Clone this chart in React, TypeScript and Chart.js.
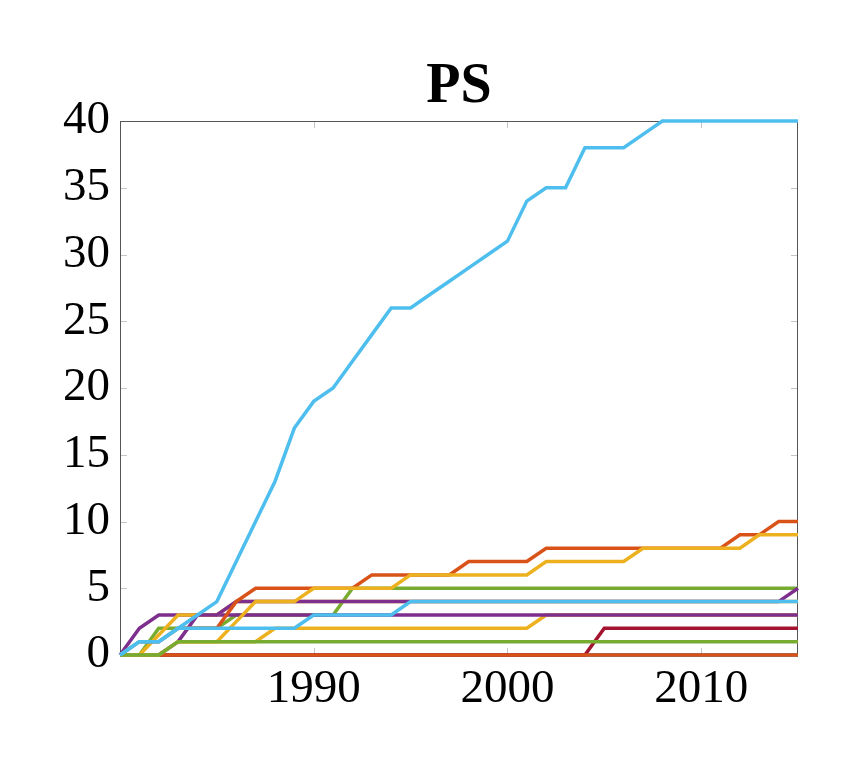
import React, { useEffect, useRef } from "react";
import { Chart, registerables } from "chart.js";

Chart.register(...registerables);

const years = [
  1980, 1981, 1982, 1983, 1984, 1985, 1986, 1987, 1988, 1989,
  1990, 1991, 1992, 1993, 1994, 1995, 1996, 1997, 1998, 1999,
  2000, 2001, 2002, 2003, 2004, 2005, 2006, 2007, 2008, 2009,
  2010, 2011, 2012, 2013, 2014, 2015,
];
const xTickValues = [1990, 2000, 2010];
const title = "PS";

const blueZero = [0,0,0,0,0,0,0,0,0,0, 0,0,0,0,0,0,0,0,0,0, 0,0,0,0,0,0,0,0,0,0, 0,0,0,0,0,0];
const darkRed = [0,0,0,0,0,0,0,0,0,0, 0,0,0,0,0,0,0,0,0,0, 0,0,0,0,0,2,2,2,2,2, 2,2,2,2,2,2];
const orangeZero = [0,0,0,0,0,0,0,0,0,0, 0,0,0,0,0,0,0,0,0,0, 0,0,0,0,0,0,0,0,0,0, 0,0,0,0,0,0];
const yellowLower = [0,0,0,1,1,1,1,1,2,2, 2,2,2,2,2,2,2,2,2,2, 2,2,3,3,3,3,3,3,3,3, 3,3,3,3,3,3];
const greenA = [0,0,2,2,2,2,3,3,3,3, 3,3,5,5,5,5,5,5,5,5, 5,5,5,5,5,5,5,5,5,5, 5,5,5,5,5,5];
const purpleA = [0,2,3,3,3,3,3,3,3,3, 3,3,3,3,3,3,3,3,3,3, 3,3,3,3,3,3,3,3,3,3, 3,3,3,3,3,3];
const yellowC = [0,0,1.5,3,3,3,4,4,4,4, 4,4,4,4,4,4,4,4,4,4, 4,4,4,4,4,4,4,4,4,4, 4,4,4,4,4,4];
const purpleB = [0,0,0,1,3,3,4,4,4,4, 4,4,4,4,4,4,4,4,4,4, 4,4,4,4,4,4,4,4,4,4, 4,4,4,4,4,5];
const orangeUpper = [0,1,1,2,2,2,4,5,5,5, 5,5,5,6,6,6,6,6,7,7, 7,7,8,8,8,8,8,8,8,8, 8,8,9,9,10,10];
const yellowUpper = [0,0,0,1,1,1,2.5,4,4,4, 5,5,5,5,5,6,6,6,6,6, 6,6,7,7,7,7,7,8,8,8, 8,8,8,9,9,9];
const greenB = [0,0,0,1,1,1,1,1,1,1, 1,1,1,1,1,1,1,1,1,1, 1,1,1,1,1,1,1,1,1,1, 1,1,1,1,1,1];
const lightBlueSmall = [0,1,1,2,2,2,2,2,2,2, 3,3,3,3,3,4,4,4,4,4, 4,4,4,4,4,4,4,4,4,4, 4,4,4,4,4,4];
const lightBlueBig = [0,1,1,2,3,4,7,10,13,17, 19,20,22,24,26,26,27,28,29,30, 31,34,35,35,38,38,38,39,40,40, 40,40,40,40,40,40];

// listed bottom -> top
const seriesList: { name: string; values: number[]; color: string }[] = [
  { name: "s1", values: blueZero, color: "#0072BD" },
  { name: "s2", values: darkRed, color: "#A2142F" },
  { name: "s3", values: orangeZero, color: "#D95319" },
  { name: "s4", values: yellowLower, color: "#EDB120" },
  { name: "s5", values: greenA, color: "#77AC30" },
  { name: "s6", values: purpleA, color: "#7E2F8E" },
  { name: "s7", values: yellowC, color: "#EDB120" },
  { name: "s8", values: purpleB, color: "#7E2F8E" },
  { name: "s9", values: orangeUpper, color: "#D95319" },
  { name: "s10", values: yellowUpper, color: "#EDB120" },
  { name: "s11", values: greenB, color: "#77AC30" },
  { name: "s12", values: lightBlueSmall, color: "#4DBEEE" },
  { name: "s13", values: lightBlueBig, color: "#4DBEEE" },
];

const FONT = "'Liberation Serif', 'DejaVu Serif', serif";

const framePlugin = {
  id: "frame",
  beforeDatasetsDraw(chart: any) {
    const { ctx, chartArea } = chart;
    const { left, right, top, bottom } = chartArea;
    const xs = chart.scales.x;
    const ys = chart.scales.y;
    ctx.save();
    ctx.strokeStyle = "#c4c4c4";
    ctx.lineWidth = 1;
    const tl = 7;
    ctx.beginPath();
    for (let v = 5; v < 40; v += 5) {
      const y = Math.round(ys.getPixelForValue(v)) + 0.5;
      ctx.moveTo(left, y);
      ctx.lineTo(left + tl, y);
      ctx.moveTo(right, y);
      ctx.lineTo(right - tl, y);
    }
    for (const v of xTickValues) {
      const x = Math.round(xs.getPixelForValue(v)) + 0.5;
      ctx.moveTo(x, bottom);
      ctx.lineTo(x, bottom - tl);
      ctx.moveTo(x, top);
      ctx.lineTo(x, top + tl);
    }
    ctx.stroke();
    ctx.strokeStyle = "#555555";
    ctx.lineWidth = 1;
    ctx.strokeRect(left + 0.5, top + 0.5, right - left - 1, bottom - top - 1);
    ctx.restore();
  },
  afterDraw(chart: any) {
    const { ctx, chartArea } = chart;
    ctx.save();
    ctx.fillStyle = "#000";
    ctx.font = `bold 56px ${FONT}`;
    ctx.textAlign = "center";
    ctx.textBaseline = "alphabetic";
    ctx.fillText(title, (chartArea.left + chartArea.right) / 2, 102);
    ctx.restore();
  },
};

export default function App() {
  const ref = useRef<HTMLCanvasElement>(null);
  useEffect(() => {
    const datasets = seriesList
      .map((s, i) => ({
        label: s.name,
        data: years.map((yr, k) => ({ x: yr, y: s.values[k] })),
        borderColor: s.color,
        backgroundColor: s.color,
        borderWidth: 3.5,
        pointRadius: 0,
        tension: 0,
        fill: false,
        clip: 4,
        order: seriesList.length - i,
      }));
    const chart = new Chart(ref.current as HTMLCanvasElement, {
      type: "line",
      data: { datasets },
      options: {
        responsive: false,
        animation: false,
        layout: { padding: { top: 121, right: 61, left: 0, bottom: 0 } },
        plugins: {
          legend: { display: false },
          tooltip: { enabled: false },
          title: { display: false },
        },
        scales: {
          x: {
            type: "linear",
            min: 1980,
            max: 2015,
            afterBuildTicks: (s: any) => {
              s.ticks = xTickValues.map((v) => ({ value: v }));
            },
            afterFit: (s: any) => {
              s.height = 108;
            },
            grid: { display: false, drawTicks: false },
            border: { display: false },
            ticks: {
              color: "#000",
              font: { family: FONT, size: 47 },
              padding: 6,
              maxRotation: 0,
              autoSkip: false,
              callback: (v: any) => String(v),
            },
          },
          y: {
            type: "linear",
            min: 0,
            max: 40,
            afterFit: (s: any) => {
              s.width = 120;
            },
            grid: { display: false, drawTicks: false },
            border: { display: false },
            ticks: {
              stepSize: 5,
              color: "#000",
              font: { family: FONT, size: 47 },
              padding: 10,
              callback: (v: any) => String(v),
            },
          },
        },
      } as any,
      plugins: [framePlugin],
    });
    return () => chart.destroy();
  }, []);
  return (
    <div style={{ position: "absolute", left: 0, top: 0, width: 859, height: 763, background: "#fff" }}>
      <canvas ref={ref} width={859} height={763} style={{ display: "block" }} />
    </div>
  );
}
